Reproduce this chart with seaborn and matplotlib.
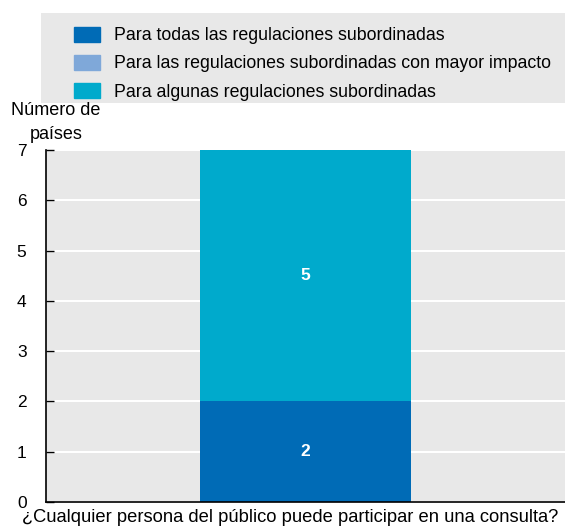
import matplotlib
matplotlib.use("Agg")
import matplotlib.pyplot as plt
import matplotlib.font_manager as fm
import matplotlib.transforms as mtransforms
from matplotlib.patches import Rectangle
import seaborn as sns
import pandas as pd

sns.set_style("white")
names = {f.name for f in fm.fontManager.ttflist}
base = "Liberation Sans Narrow" if "Liberation Sans Narrow" in names else "Liberation Sans"
plt.rcParams['font.family'] = [base, 'DejaVu Sans']
plt.rcParams['text.color'] = 'black'
plt.rcParams['xtick.color'] = 'black'
plt.rcParams['ytick.color'] = 'black'

# data
categories = ['¿Cualquier persona del público puede participar en una consulta?']
series_names = ['Para todas las regulaciones subordinadas',
                'Para las regulaciones subordinadas con mayor impacto',
                'Para algunas regulaciones subordinadas']
todas = [2]
mayor_impacto = [0]
algunas = [5]
colors = ['#006BB6', '#7FA8D9', '#00AACC']

fig = plt.figure(figsize=(5.65, 5.32), dpi=100)
ax = fig.add_axes([0.0814, 0.0564, 0.9186, 0.6616])
ax.set_facecolor('#e8e8e8')

bottom = [0]
handles = []
for name, vals, col in zip(series_names, [todas, mayor_impacto, algunas], colors):
    df = pd.DataFrame({'cat': categories, 'val': vals})
    sns.barplot(data=df, x='cat', y='val', color=col, width=0.405,
                bottom=bottom, ax=ax, saturation=1, linewidth=0)
    for i, v in enumerate(vals):
        if v > 0:
            ax.text(i, bottom[i] + v / 2, str(v), ha='center', va='center',
                    color='white', fontsize=12.5, fontweight='bold')
    handles.append(Rectangle((0, 0), 1, 1, color=col))
    bottom = [b + v for b, v in zip(bottom, vals)]

ax.set_ylim(0, 7)
ax.set_xlim(-0.5, 0.5)
ax.set_yticks(range(0, 8))
ax.yaxis.grid(True, color='white', linewidth=1.5)
ax.set_axisbelow(True)
for s in ['top', 'right']:
    ax.spines[s].set_visible(False)
ax.spines['left'].set_color('black')
ax.spines['bottom'].set_color('black')
ax.spines['left'].set_linewidth(1.2)
ax.spines['bottom'].set_linewidth(1.2)
ax.tick_params(axis='y', direction='in', length=6, width=1, labelsize=12.5, pad=14, left=True)
ax.tick_params(axis='x', length=0, labelsize=13.2, pad=5)
ax.set_xlabel('')
ax.set_ylabel('')

# the long category label sits a bit left of the bar centre
shift = mtransforms.ScaledTranslation(-0.15, 0, fig.dpi_scale_trans)
for lab in ax.get_xticklabels():
    lab.set_transform(lab.get_transform() + shift)

fig.text(0.099, 0.77, 'Número de\npaíses', ha='center', va='center', fontsize=13,
         linespacing=1.5)

fig.patches.append(Rectangle((41 / 565, 1 - 103 / 532), 524 / 565, 90 / 532,
                             transform=fig.transFigure, facecolor='#e8e8e8',
                             edgecolor='none', zorder=0))
fig.legend(handles, series_names, loc='upper left', bbox_to_anchor=(0.118, 0.963),
           frameon=False, fontsize=12.8, handlelength=1.45, handleheight=0.9,
           handletextpad=0.8, labelspacing=0.6, borderaxespad=0)

fig.savefig('out.png', dpi=100)
